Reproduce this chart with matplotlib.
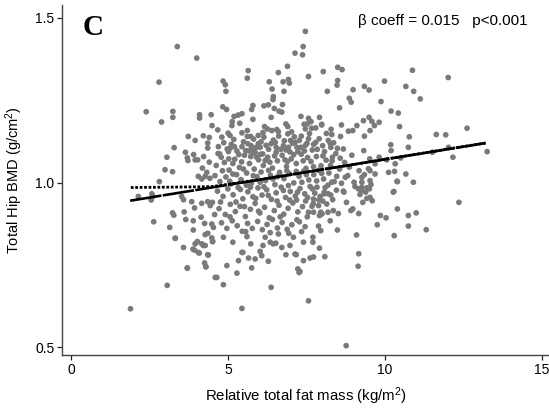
import matplotlib
matplotlib.use("Agg")
import matplotlib.pyplot as plt
import numpy as np

plt.rcParams["font.family"] = ["Liberation Sans", "DejaVu Sans"]
plt.rcParams["mathtext.fontset"] = "custom"
plt.rcParams["mathtext.rm"] = "Liberation Sans"
plt.rcParams["mathtext.it"] = "Liberation Sans:italic"

# (relative fat mass, hip BMD), grouped by region
left_pts = [
    (3.38, 1.413), (4.00, 1.378), (2.80, 1.305), (2.39, 1.215), (3.24, 1.216), (3.24, 1.198),
    (2.88, 1.184), (4.09, 1.206), (4.09, 1.196), (4.46, 1.206), (4.49, 1.173), (3.73, 1.140),
    (3.95, 1.128), (4.21, 1.142), (4.40, 1.137), (4.35, 1.120), (4.35, 1.105), (3.28, 1.106),
    (3.64, 1.092), (3.90, 1.085), (3.70, 1.075), (3.72, 1.067), (3.05, 1.077), (3.95, 1.069),
    (4.03, 1.069), (4.22, 1.079), (4.40, 1.062), (2.99, 1.039), (3.23, 1.033), (4.18, 1.044),
    (4.32, 1.031), (4.27, 1.019), (4.05, 1.019), (4.16, 1.011), (2.81, 1.003), (4.42, 1.013),
    (2.14, 0.958), (2.60, 0.958), (2.55, 0.947), (2.57, 0.966), (3.52, 0.958), (3.58, 0.948),
    (3.84, 0.942), (4.16, 0.937), (3.93, 0.923), (4.35, 0.942), (4.43, 0.930), (4.50, 0.940),
    (3.23, 0.908), (3.27, 0.901), (3.60, 0.911), (2.63, 0.881), (3.65, 0.888), (3.89, 0.884),
    (4.14, 0.895), (4.25, 0.876), (3.14, 0.864), (3.89, 0.856), (4.48, 0.874), (4.53, 0.864),
    (4.35, 0.846), (4.27, 0.842), (3.32, 0.831), (4.48, 0.832), (4.50, 0.821), (4.02, 0.821),
    (4.16, 0.814), (4.27, 0.809), (3.93, 0.795), (4.08, 0.786), (4.37, 0.780), (4.25, 0.756),
    (4.29, 0.744), (3.70, 0.740), (4.59, 0.712), (3.06, 0.688), (1.89, 0.617),
]

top_pts = [
    (7.46, 1.459), (7.39, 1.413), (7.37, 1.388), (7.13, 1.393), (6.89, 1.353), (6.60, 1.334),
    (5.64, 1.340), (5.61, 1.317), (4.84, 1.308), (4.91, 1.297), (4.93, 1.277), (6.31, 1.306),
    (6.40, 1.284), (6.44, 1.261), (6.43, 1.252), (6.75, 1.306), (6.92, 1.313), (6.95, 1.302),
    (6.78, 1.277), (7.56, 1.322), (8.03, 1.337), (8.49, 1.350), (8.63, 1.343), (8.49, 1.310),
    (8.47, 1.296), (8.16, 1.277), (8.98, 1.282), (8.86, 1.256), (8.92, 1.244), (8.55, 1.227),
    (4.83, 1.230), (4.95, 1.222), (6.14, 1.233), (6.28, 1.236), (6.47, 1.225), (6.62, 1.217),
    (6.73, 1.237), (6.71, 1.214), (5.79, 1.234), (5.75, 1.222), (5.19, 1.201), (5.32, 1.205),
    (5.44, 1.209), (5.79, 1.192), (6.37, 1.198), (7.32, 1.201), (7.56, 1.195), (7.64, 1.185),
    (7.52, 1.178), (7.91, 1.198), (7.98, 1.175), (7.42, 1.177), (7.46, 1.163),
    (4.67, 1.160), (4.80, 1.138), (5.00, 1.150), (5.06, 1.143), (5.12, 1.173), (5.13, 1.185),
    (5.37, 1.180), (5.61, 1.158), (5.61, 1.140), (5.72, 1.140), (6.16, 1.170), (6.25, 1.163),
    (6.39, 1.158), (6.55, 1.161), (6.60, 1.155), (6.84, 1.178), (6.90, 1.170), (6.90, 1.148),
    (7.66, 1.165), (7.79, 1.166), (7.98, 1.177), (8.28, 1.162), (8.30, 1.146), (8.61, 1.175),
    (8.83, 1.156), (8.97, 1.158), (8.58, 1.140),
]

core_pts = [
    (4.69, 1.109), (4.73, 1.087), (4.78, 1.077), (4.97, 1.102), (5.07, 1.105), (5.20, 1.109),
    (5.44, 1.109), (5.56, 1.097), (5.73, 1.112), (5.75, 1.102), (5.86, 1.092), (5.91, 1.077),
    (6.02, 1.107), (6.10, 1.087), (6.50, 1.122), (6.53, 1.107), (6.53, 1.092), (6.76, 1.112),
    (6.84, 1.099), (6.92, 1.107), (7.05, 1.119), (7.13, 1.122), (7.19, 1.107), (7.32, 1.107),
    (7.51, 1.119), (7.56, 1.133), (7.72, 1.116), (7.79, 1.122), (7.90, 1.133), (8.19, 1.128),
    (8.27, 1.107), (8.32, 1.077), (8.25, 1.119),
    (4.62, 1.052), (4.88, 1.061), (5.03, 1.038), (5.21, 1.071), (5.36, 1.046), (5.52, 1.083),
    (5.68, 1.058), (5.83, 1.041), (5.97, 1.069), (6.12, 1.052), (6.26, 1.077), (6.41, 1.044),
    (6.57, 1.066), (6.72, 1.083), (6.86, 1.049), (7.01, 1.072), (7.17, 1.058), (7.33, 1.086),
    (7.48, 1.043), (7.64, 1.064), (7.81, 1.079), (7.96, 1.051), (8.12, 1.068), (8.43, 1.088),
    (8.71, 1.061), (8.94, 1.083),
    (4.58, 1.021), (4.74, 1.003), (4.93, 1.017), (5.09, 0.996), (5.27, 1.024), (5.41, 1.009),
    (5.59, 1.029), (5.74, 0.998), (5.92, 1.018), (6.05, 1.032), (6.19, 1.006), (6.35, 1.022),
    (6.49, 0.994), (6.64, 1.031), (6.78, 1.012), (6.95, 1.027), (7.09, 0.999), (7.26, 1.019),
    (7.41, 1.035), (7.57, 1.008), (7.73, 1.024), (7.88, 1.037), (8.04, 1.011), (8.21, 1.029),
    (8.38, 1.003), (8.55, 1.041), (8.81, 1.021),
    (4.66, 0.974), (4.84, 0.958), (4.99, 0.981), (5.16, 0.963), (5.32, 0.985), (5.47, 0.951),
    (5.63, 0.972), (5.79, 0.957), (5.95, 0.984), (6.08, 0.962), (6.23, 0.978), (6.38, 0.949),
    (6.53, 0.969), (6.69, 0.986), (6.83, 0.955), (6.98, 0.973), (7.14, 0.959), (7.29, 0.982),
    (7.44, 0.966), (7.61, 0.988), (7.76, 0.968), (7.93, 0.958), (8.09, 0.985), (8.27, 0.962),
    (8.45, 0.977),
    (4.71, 0.921), (4.91, 0.903), (5.07, 0.934), (5.23, 0.912), (5.38, 0.928), (5.55, 0.897),
    (5.71, 0.919), (5.86, 0.937), (6.01, 0.908), (6.16, 0.925), (6.31, 0.893), (6.47, 0.915),
    (6.62, 0.931), (6.77, 0.904), (6.91, 0.922), (7.06, 0.938), (7.22, 0.911), (7.37, 0.927),
    (7.52, 0.896),
    (4.79, 0.878), (4.96, 0.861), (5.13, 0.884), (5.29, 0.869), (5.45, 0.852), (5.62, 0.876),
    (5.77, 0.861), (5.94, 0.882), (6.09, 0.857), (6.24, 0.873), (6.41, 0.888), (6.57, 0.862),
    (6.72, 0.879), (6.88, 0.858), (7.03, 0.872), (7.19, 0.887), (7.34, 0.851),
    (4.68, 1.088), (4.86, 1.121), (5.01, 1.094), (5.18, 1.131), (5.34, 1.085), (5.49, 1.124),
    (5.66, 1.096), (5.81, 1.132), (5.96, 1.118), (6.14, 1.138), (6.29, 1.101), (6.44, 1.129),
    (6.61, 1.141), (6.79, 1.127), (6.97, 1.093), (7.11, 1.139), (7.27, 1.128), (7.43, 1.096),
    (7.59, 1.149), (7.84, 1.101), (8.07, 1.094), (8.36, 1.121), (8.67, 1.102),
    (5.05, 1.004), (5.58, 0.992), (6.02, 1.001), (6.43, 1.011), (6.92, 0.991), (7.35, 1.001),
    (7.82, 1.005), (8.18, 0.992), (8.61, 0.998), (5.25, 0.941), (5.88, 0.952), (6.56, 0.944),
    (7.18, 0.947), (7.71, 0.936), (8.33, 0.948), (5.15, 1.058), (5.79, 1.089), (6.33, 1.062),
    (6.89, 1.064), (7.53, 1.076), (8.26, 1.052), (8.86, 1.047),
]

# extra points where the cloud is thickest
dense_pts = [
    (5.10, 1.116), (5.28, 1.096), (5.63, 1.118), (5.88, 1.106), (6.05, 1.124), (6.21, 1.113),
    (6.37, 1.118), (6.68, 1.101), (6.99, 1.128), (7.22, 1.094), (7.46, 1.113), (7.68, 1.099),
    (8.01, 1.112), (8.48, 1.104), (5.02, 1.072), (5.43, 1.063), (5.72, 1.079), (6.03, 1.086),
    (6.18, 1.067), (6.48, 1.081), (6.81, 1.069), (7.09, 1.085), (7.39, 1.066), (7.72, 1.048),
    (8.02, 1.081), (8.31, 1.066), (8.57, 1.074), (5.15, 1.026), (5.49, 1.041), (5.80, 1.021),
    (6.29, 1.037), (6.57, 1.018), (6.87, 1.036), (7.17, 1.034), (7.49, 1.024), (7.98, 1.028),
    (8.46, 1.019), (4.82, 1.036), (5.39, 0.979), (5.71, 0.986), (6.14, 0.987), (6.76, 0.976),
    (7.21, 0.971), (7.68, 0.981), (8.19, 0.966), (4.76, 0.941), (5.52, 0.927), (6.28, 0.961),
    (6.96, 0.947), (7.47, 0.944), (8.01, 0.944), (5.06, 0.896), (5.97, 0.913), (6.66, 0.896),
    (7.27, 0.881), (5.56, 0.851), (6.34, 0.848), (4.57, 0.903), (6.11, 1.152), (7.02, 1.154),
    (7.33, 1.141), (5.44, 1.151), (5.96, 1.143), (8.13, 1.149),
]

right_pts = [
    (10.87, 1.341), (12.01, 1.319), (9.98, 1.308), (10.66, 1.292), (10.91, 1.277), (11.12, 1.254),
    (9.34, 1.292), (9.49, 1.281), (9.87, 1.246), (10.19, 1.217), (10.42, 1.211), (9.31, 1.188),
    (9.49, 1.198), (9.58, 1.186), (9.66, 1.173), (9.52, 1.158), (9.81, 1.183), (9.10, 1.173),
    (9.34, 1.141), (10.46, 1.170), (10.77, 1.139), (11.63, 1.146), (11.93, 1.145), (12.61, 1.165),
    (10.74, 1.107), (10.18, 1.115), (10.19, 1.097), (9.32, 1.097), (9.51, 1.072), (9.81, 1.077),
    (10.05, 1.069), (10.32, 1.057), (10.50, 1.075), (12.02, 1.107), (12.16, 1.077), (11.51, 1.092),
    (13.25, 1.094), (9.17, 1.036), (9.34, 1.024), (9.52, 1.036), (9.68, 1.026), (10.11, 1.031),
    (10.30, 1.034), (10.66, 1.026), (10.38, 1.004), (10.90, 1.001), (9.26, 1.001), (9.52, 1.006),
    (10.26, 0.971), (9.68, 1.057), (9.47, 1.042), (9.26, 1.016), (9.01, 1.001), (8.73, 1.016),
    (9.26, 0.986), (9.42, 0.984), (8.67, 0.974), (9.20, 0.964), (9.52, 0.955), (8.30, 1.001),
    (8.06, 0.971), (7.83, 0.986), (7.72, 0.950), (7.53, 0.955), (12.35, 0.940), (10.39, 0.920),
    (10.74, 0.900), (10.99, 0.908), (10.74, 0.868), (11.31, 0.857), (10.29, 0.839), (10.03, 0.893),
    (9.85, 0.900), (9.75, 0.872), (10.28, 0.973), (10.39, 1.003), (9.59, 0.945), (9.42, 0.952),
    (9.29, 0.940), (9.38, 0.971), (9.15, 0.981), (9.04, 0.988), (9.55, 0.994), (9.50, 0.981),
    (9.24, 0.976), (9.16, 0.906), (8.91, 0.915), (8.97, 0.920), (8.77, 0.940), (8.69, 0.971),
    (9.09, 0.841), (9.16, 0.784), (9.14, 0.746),
]

low_pts = [
    (8.48, 0.856), (8.25, 0.884), (8.35, 0.915), (8.51, 0.906), (8.14, 0.935), (8.18, 0.910),
    (7.89, 0.947), (7.88, 0.930), (8.06, 0.966), (7.95, 0.910), (7.72, 0.910), (7.56, 0.910),
    (7.67, 0.928), (7.91, 0.900), (7.99, 0.905), (7.45, 0.866), (7.88, 0.868), (7.95, 0.854),
    (7.70, 0.834), (7.70, 0.819), (7.91, 0.801), (8.08, 0.775), (7.72, 0.774), (7.61, 0.771),
    (7.40, 0.763), (7.29, 0.730), (7.56, 0.641), (8.76, 0.505),
    (5.44, 0.618), (6.37, 0.682), (4.85, 0.690), (4.64, 0.712), (5.28, 0.725), (4.96, 0.748),
    (5.75, 0.741), (5.33, 0.763), (5.44, 0.788), (5.65, 0.771), (5.86, 0.768), (6.07, 0.778),
    (6.28, 0.761), (6.44, 0.814), (6.52, 0.816), (6.84, 0.781), (7.17, 0.781), (7.22, 0.738),
    (7.26, 0.727), (3.70, 0.741), (4.29, 0.745), (3.31, 0.831), (3.58, 0.803), (3.88, 0.798),
    (3.95, 0.814), (4.05, 0.788), (4.21, 0.809), (4.35, 0.781), (4.51, 0.821), (4.85, 0.834),
    (5.15, 0.819), (5.60, 0.836), (5.72, 0.814), (6.02, 0.791), (6.11, 0.809), (6.34, 0.819),
    (6.71, 0.803), (6.97, 0.809), (7.13, 0.783), (7.40, 0.819), (7.08, 0.834), (6.93, 0.846),
    (6.60, 0.844), (6.18, 0.834), (5.47, 0.788),
]

# fitted line end points and smoothed curve
fit_x = [1.88, 13.2]
fit_y = [0.945, 1.12]
smooth_x = [1.9, 3.0, 4.0, 4.5, 5.0, 6.0, 7.0, 8.0, 9.0, 10.0, 11.0, 12.0, 13.2]
smooth_y = [0.985, 0.986, 0.987, 0.988, 0.995, 1.009, 1.024, 1.040, 1.055, 1.071, 1.086, 1.102, 1.120]

all_pts = np.array(left_pts + top_pts + core_pts + dense_pts + right_pts + low_pts)
fat_mass = all_pts[:, 0]
hip_bmd = all_pts[:, 1]

fig = plt.figure(figsize=(5.49, 4.13), dpi=100)
ax = fig.add_axes([0.113, 0.140, 0.887, 0.847])

ax.scatter(fat_mass, hip_bmd, s=17, color="#7a7a7a", edgecolors="none", zorder=2)
ax.plot(fit_x, fit_y, color="black", lw=1.9, linestyle=(0, (12, 0.5)), zorder=3)
ax.plot(smooth_x, smooth_y, color="black", lw=2.0, linestyle=(0, (1.0, 0.6)), zorder=3)

ax.set_xlim(-0.29, 15.22)
ax.set_ylim(0.476, 1.538)
ax.set_xticks([0, 5, 10, 15])
ax.set_yticks([0.5, 1.0, 1.5])
ax.set_yticklabels(["0.5", "1.0", "1.5"])

for side in ["top", "right"]:
    ax.spines[side].set_visible(False)
for side in ["left", "bottom"]:
    ax.spines[side].set_color("#444444")
    ax.spines[side].set_linewidth(1.0)
ax.tick_params(direction="out", length=3.5, width=0.9, color="#222222", labelsize=10, pad=2)

ax.set_xlabel("Relative total fat mass (kg/m$^2$)", fontsize=10.8, labelpad=6)
ax.set_ylabel("Total Hip BMD (g/cm$^2$)", fontsize=10.5, labelpad=7)

ax.text(0.064, 0.937, "C", transform=ax.transAxes, fontsize=21, fontweight="bold",
        family="Liberation Serif", ha="center", va="center")
ax.text(0.782, 0.954, "β coeff = 0.015   p<0.001", transform=ax.transAxes,
        fontsize=11, ha="center", va="center")

fig.savefig("out.png", dpi=100)
